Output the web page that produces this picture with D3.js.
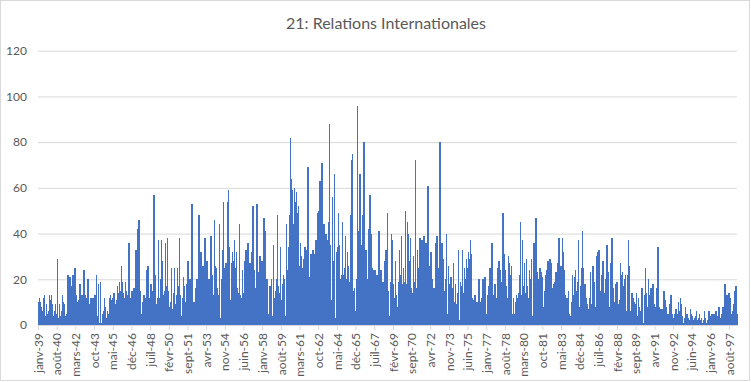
<!DOCTYPE html>
<html>
<head>
<meta charset="utf-8">
<script src="https://cdn.jsdelivr.net/npm/d3@7"></script>
<style>
  body { margin: 0; background: #fff; }
  svg { display: block; font-family: Lato, "Open Sans", sans-serif; }
</style>
</head>
<body>
<div id="chart"></div>
<script>
const MONTH_NAMES = ["janv", "févr", "mars", "avr", "mai", "juin", "juil", "août", "sept", "oct", "nov", "déc"]
const START_YEAR = 1939
const LABEL_EVERY = 19
const Y_TICKS = [0, 20, 40, 60, 80, 100, 120]

// monthly counts, one row per year
const counts1939to1948 = [
  10, 12, 10, 8, 6, 12, 13, 4, 9, 5, 6, 13,
  11, 13, 9, 4, 6, 9, 5, 29, 3, 9, 4, 6,
  13, 10, 9, 4, 5, 20, 22, 15, 21, 17, 14, 22,
  12, 25, 13, 10, 5, 11, 18, 12, 13, 10, 24, 13,
  6, 12, 20, 9, 8, 12, 6, 12, 8, 13, 12, 22,
  4, 18, 1, 19, 1, 5, 6, 12, 8, 3, 6, 5,
  12, 13, 11, 12, 14, 14, 9, 11, 17, 14, 19, 15,
  26, 19, 14, 12, 19, 15, 13, 11, 36, 12, 10, 15,
  12, 16, 12, 33, 16, 42, 46, 15, 5, 2, 10, 13,
  12, 12, 24, 26, 12, 3, 18, 15, 10, 57, 22, 22
]
const counts1949to1958 = [
  9, 12, 37, 12, 20, 37, 28, 13, 15, 36, 17, 38,
  15, 8, 10, 25, 7, 14, 25, 9, 13, 25, 17, 38,
  13, 4, 12, 21, 17, 10, 2, 18, 28, 3, 20, 19,
  53, 4, 10, 1, 16, 20, 19, 48, 20, 32, 26, 26,
  19, 38, 27, 28, 19, 20, 12, 39, 12, 22, 13, 46,
  26, 25, 16, 13, 44, 3, 20, 33, 54, 25, 27, 27,
  54, 59, 34, 11, 27, 32, 28, 37, 25, 32, 16, 14,
  44, 13, 12, 24, 8, 14, 28, 33, 26, 36, 2, 27,
  18, 32, 52, 24, 9, 16, 53, 16, 23, 30, 27, 28,
  19, 47, 41, 14, 20, 4, 5, 17, 13, 20, 4, 35
]
const counts1959to1968 = [
  12, 15, 20, 48, 17, 14, 34, 11, 18, 22, 20, 4,
  44, 24, 34, 48, 82, 64, 59, 44, 60, 54, 58, 49,
  52, 26, 36, 30, 22, 25, 29, 34, 15, 33, 69, 20,
  21, 31, 27, 33, 31, 28, 37, 14, 49, 50, 63, 57,
  71, 43, 44, 29, 40, 37, 36, 45, 88, 35, 11, 56,
  28, 66, 3, 32, 34, 49, 35, 20, 22, 45, 22, 25,
  39, 20, 32, 26, 19, 48, 72, 75, 15, 16, 6, 20,
  96, 41, 37, 66, 35, 23, 48, 80, 28, 33, 20, 17,
  42, 57, 40, 25, 24, 20, 24, 22, 19, 22, 41, 24,
  24, 19, 9, 19, 28, 33, 11, 49, 15, 4, 19, 40
]
const counts1969to1978 = [
  37, 18, 12, 28, 13, 8, 19, 33, 22, 39, 18, 25,
  19, 50, 18, 45, 40, 28, 38, 16, 14, 30, 19, 72,
  16, 33, 16, 25, 38, 24, 37, 16, 39, 31, 36, 13,
  61, 13, 26, 32, 20, 14, 16, 14, 36, 39, 18, 25,
  80, 20, 36, 29, 15, 5, 20, 40, 5, 26, 18, 21,
  21, 16, 27, 10, 18, 9, 14, 33, 2, 19, 17, 33,
  14, 25, 20, 29, 25, 32, 29, 37, 31, 12, 11, 13,
  13, 5, 10, 10, 20, 10, 4, 12, 20, 18, 21, 5,
  2, 13, 17, 25, 5, 36, 13, 10, 18, 4, 12, 25,
  28, 24, 15, 19, 49, 31, 27, 24, 17, 12, 30, 27
]
const counts1979to1988 = [
  22, 26, 5, 12, 5, 10, 13, 12, 14, 22, 45, 13,
  37, 17, 27, 14, 29, 17, 12, 24, 20, 29, 4, 31,
  36, 21, 47, 23, 13, 20, 25, 23, 21, 5, 8, 15,
  22, 24, 28, 18, 29, 27, 9, 16, 18, 19, 23, 20,
  27, 38, 21, 26, 20, 38, 32, 24, 13, 12, 12, 15,
  5, 4, 10, 22, 13, 21, 24, 15, 19, 37, 8, 17,
  25, 41, 25, 18, 18, 12, 9, 7, 12, 23, 8, 9,
  26, 19, 8, 8, 30, 32, 33, 15, 9, 22, 28, 7,
  14, 20, 35, 23, 8, 8, 27, 38, 16, 10, 7, 18,
  19, 9, 5, 11, 27, 22, 23, 17, 20, 22, 6, 22
]
const counts1989to1998 = [
  37, 26, 6, 14, 14, 12, 10, 9, 14, 4, 12, 8,
  6, 16, 16, 1, 13, 25, 14, 8, 20, 13, 12, 16,
  9, 18, 9, 8, 5, 16, 34, 8, 7, 6, 7, 1,
  15, 11, 8, 2, 5, 2, 9, 13, 5, 1, 3, 5,
  7, 5, 4, 10, 6, 12, 9, 4, 1, 3, 8, 5,
  5, 3, 2, 7, 5, 4, 2, 3, 4, 6, 2, 3,
  5, 2, 3, 1, 2, 6, 3, 1, 2, 4, 6, 2,
  4, 5, 3, 5, 2, 6, 3, 4, 8, 3, 2, 5,
  8, 7, 18, 4, 13, 8, 14, 12, 5, 3, 6, 9,
  15, 17, 5
]

const counts = [].concat(counts1939to1948, counts1949to1958, counts1959to1968,
  counts1969to1978, counts1979to1988, counts1989to1998)

const data = counts.map((v, i) => ({
  label: MONTH_NAMES[i % 12] + "-" + String((START_YEAR + Math.floor(i / 12)) % 100).padStart(2, "0"),
  value: v
}))

const W = 751, H = 382
const MARGIN = { TOP: 50.7, BOTTOM: 57, LEFT: 38, RIGHT: 14 }
const TEXT = "#595959", GRID = "#d9d9d9", BAR = "#4472c4"

const svg = d3.select("#chart").append("svg")
  .attr("width", W)
  .attr("height", H)

svg.append("rect")
  .attr("x", 0.5).attr("y", 0.5)
  .attr("width", W - 2).attr("height", H - 2)
  .attr("fill", "#fff")
  .attr("stroke", GRID)

svg.append("text")
  .attr("x", 386)
  .attr("y", 29)
  .attr("text-anchor", "middle")
  .attr("font-size", "16px")
  .attr("fill", TEXT)
  .text("21: Relations Internationales")

const x = d3.scaleBand()
  .domain(data.map((d, i) => i))
  .range([MARGIN.LEFT, W - MARGIN.RIGHT])
  .padding(0)

const y = d3.scaleLinear()
  .domain([0, 120])
  .range([H - MARGIN.BOTTOM, MARGIN.TOP])

// gridlines + y labels
const yAxis = d3.axisLeft(y)
  .tickValues(Y_TICKS)
  .tickSize(-(W - MARGIN.LEFT - MARGIN.RIGHT))
  .tickPadding(11)

svg.append("g")
  .attr("transform", `translate(${MARGIN.LEFT}, 0)`)
  .call(yAxis)
  .call(g => g.select(".domain").remove())
  .call(g => g.selectAll(".tick line").attr("stroke", GRID))
  .call(g => g.selectAll(".tick text")
    .attr("fill", TEXT)
    .attr("font-size", "12px")
    .attr("font-family", "Lato, sans-serif"))

svg.append("g")
  .attr("shape-rendering", "crispEdges")
  .selectAll("rect")
  .data(data)
  .enter().append("rect")
    .attr("x", (d, i) => x(i))
    .attr("y", d => y(d.value))
    .attr("width", x.bandwidth() + 0.5)
    .attr("height", d => y(0) - y(d.value))
    .attr("fill", BAR)

const xAxis = d3.axisBottom(x)
  .tickValues(data.map((d, i) => i).filter(i => i % LABEL_EVERY === 0))
  .tickFormat(i => data[i].label)
  .tickSize(5)
  .tickSizeOuter(0)

svg.append("g")
  .attr("transform", `translate(0, ${H - MARGIN.BOTTOM})`)
  .call(xAxis)
  .call(g => g.select(".domain").attr("stroke", GRID))
  .call(g => g.selectAll(".tick line").attr("stroke", GRID))
  .call(g => g.selectAll(".tick text")
    .attr("transform", "rotate(-90)")
    .attr("text-anchor", "end")
    .attr("dy", "0.35em")
    .attr("x", -8)
    .attr("y", 0)
    .attr("fill", TEXT)
    .attr("font-size", "12px")
    .attr("font-family", "Lato, sans-serif"))
</script>
</body>
</html>
